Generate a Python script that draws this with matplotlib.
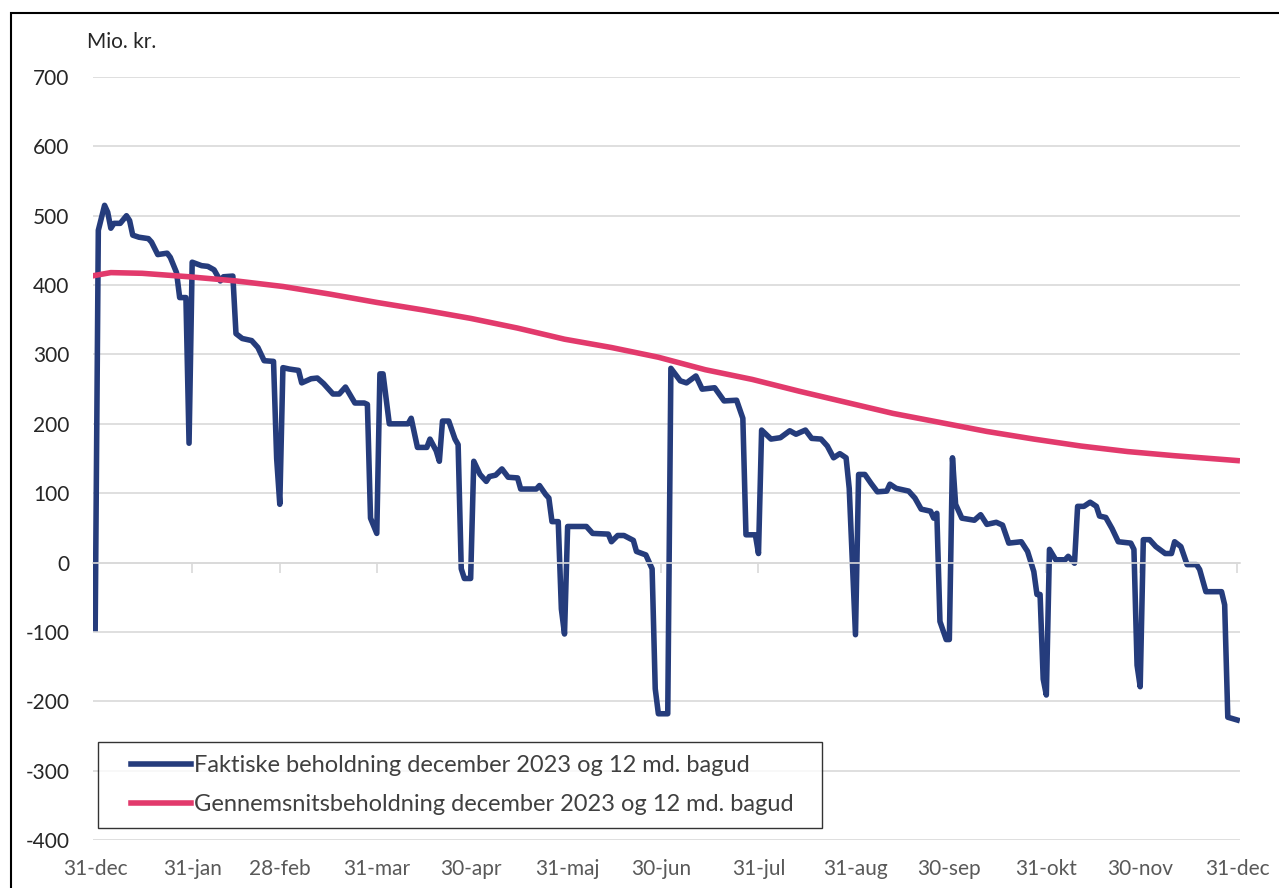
import matplotlib.pyplot as plt
from matplotlib.patches import Rectangle
from matplotlib.legend_handler import HandlerLine2D

plt.rcParams['font.family'] = ['Lato', 'DejaVu Sans']
plt.rcParams['axes.unicode_minus'] = False

# Faktiske beholdning: dag (0 = 31-dec) og værdi i mio. kr.
dage = [0, 1, 3, 4, 5, 6, 8, 10, 11, 12, 14, 17, 18, 20, 23, 24, 26, 27, 29, 30,
        31, 34, 36, 38, 40, 41, 44, 45, 47, 50, 52, 54, 57, 58, 59, 60, 62, 65, 66, 69,
        71, 73, 76, 78, 80, 83, 86, 87, 88, 90, 91, 92, 94, 100, 101, 103, 106, 107, 109, 110,
        111, 113, 115, 116, 117, 118, 120, 121, 123, 125, 126, 128, 130, 132, 135, 136, 141, 142, 144, 145,
        146, 148, 149, 150, 151, 157, 159, 164, 165, 167, 169, 172, 173, 176, 178, 179, 180, 183, 184, 187,
        189, 192, 194, 198, 201, 205, 207, 208, 211, 212, 213, 216, 219, 222, 224, 227, 229, 232, 234, 236,
        238, 240, 241, 243, 244, 246, 248, 250, 253, 254, 256, 260, 262, 264, 267, 268, 269, 270, 272, 273,
        274, 275, 277, 281, 283, 285, 288, 290, 292, 296, 298, 300, 301, 302, 303, 304, 305, 307, 310, 311,
        313, 314, 316, 318, 320, 321, 323, 325, 327, 331, 332, 333, 334, 335, 337, 339, 342, 344, 345, 347,
        349, 352, 353, 355, 360, 361, 362, 365]
faktisk = [-95, 479, 515, 505, 482, 489, 489, 500, 493, 472, 469, 467, 462, 444, 446, 440, 418, 382, 382, 172,
           433, 428, 427, 422, 406, 412, 413, 330, 323, 320, 310, 291, 290, 150, 84, 281, 279, 277, 259, 265,
           266, 258, 243, 243, 253, 230, 230, 228, 64, 42, 272, 272, 200, 200, 208, 166, 166, 178, 161, 146,
           204, 204, 178, 170, -9, -23, -23, 146, 127, 117, 124, 126, 135, 123, 122, 106, 106, 111, 98, 93,
           59, 59, -67, -103, 52, 52, 42, 41, 30, 39, 39, 32, 16, 11, -9, -182, -218, -218, 280, 262,
           259, 269, 250, 252, 233, 234, 208, 40, 40, 13, 191, 178, 180, 190, 185, 191, 179, 178, 168, 151,
           157, 151, 107, -104, 127, 127, 114, 102, 103, 113, 107, 103, 93, 77, 74, 64, 71, -85, -111, -111,
           151, 84, 64, 61, 69, 55, 58, 54, 28, 30, 16, -13, -46, -46, -168, -191, 19, 4, 4, 9,
           -1, 81, 81, 87, 81, 67, 65, 49, 30, 28, 19, -148, -179, 33, 33, 23, 13, 13, 30, 23,
           -3, -3, -10, -42, -42, -61, -223, -227]

# Gennemsnitsbeholdning
dage_gns = [0, 5, 15, 30, 45, 60, 75, 90, 105, 120, 135, 150, 165, 180, 195, 210, 225, 240,
            255, 270, 285, 300, 315, 330, 345, 365]
gennemsnit = [414, 418, 417, 412, 406, 398, 387, 375, 364, 352, 338, 322, 310, 296, 278, 264, 247, 231,
              215, 202, 189, 178, 168, 160, 154, 147]

maaned_dage = [0, 31, 59, 90, 120, 151, 181, 212, 243, 273, 304, 334, 365]
maaned_labels = ['31-dec', '31-jan', '28-feb', '31-mar', '30-apr', '31-maj', '30-jun',
                 '31-jul', '31-aug', '30-sep', '31-okt', '30-nov', '31-dec']

blaa = '#253C7C'
pink = '#E23A6C'

fig = plt.figure(figsize=(12.79, 8.88), dpi=100)
ax = fig.add_axes([93 / 1279, 1 - 840 / 888, (1240 - 93) / 1279, (840 - 77) / 888])

ax.plot(dage, faktisk, color=blaa, lw=4.0, solid_joinstyle='round',
        label='Faktiske beholdning december 2023 og 12 md. bagud')
ax.plot(dage_gns, gennemsnit, color=pink, lw=4.0,
        label='Gennemsnitsbeholdning december 2023 og 12 md. bagud')

ax.set_xlim(-0.7, 365.9)
ax.set_ylim(-400, 700)
ax.set_yticks(range(-400, 701, 100))
ax.grid(axis='y', color='#D9D9D9', lw=1.2)
ax.set_axisbelow(True)

for s in ['top', 'right', 'left']:
    ax.spines[s].set_visible(False)
# vandret akse ved 0 med tick marks, labels i bunden
ax.spines['bottom'].set_position(('data', 0))
ax.spines['bottom'].set_color('#D9D9D9')
ax.spines['bottom'].set_linewidth(1.2)
ax.set_xticks(maaned_dage)
ax.tick_params(axis='x', direction='out', length=7, width=1.2, color='#D9D9D9', labelbottom=False)
ax.tick_params(axis='y', length=0, pad=17, labelsize=15, labelcolor='#262626')

sec = ax.secondary_xaxis(0)
sec.set_xticks(maaned_dage)
sec.set_xticklabels(maaned_labels)
sec.tick_params(length=0, pad=14, labelsize=15, labelcolor='#595959')
sec.spines['bottom'].set_visible(False)

fig.text(87 / 1279, 1 - 42 / 888, 'Mio. kr.', fontsize=15, color='#262626', va='center', ha='left')

leg = ax.legend(loc='lower left',
                bbox_to_anchor=((98 - 93) / 1147, (840 - 828) / 763, (822 - 98) / 1147, 0.1),
                mode='expand', fontsize=17, frameon=True, fancybox=False,
                handlelength=3.4, handletextpad=0.12, borderpad=0.55, labelspacing=0.75,
                borderaxespad=0, handler_map={plt.Line2D: HandlerLine2D(xpad=0.85)})
leg.get_frame().set_edgecolor('black')
leg.get_frame().set_linewidth(1.0)
for t in leg.get_texts():
    t.set_color('#404040')

# ramme om hele figuren
fig.patches.append(Rectangle((11 / 1279, -0.05), 1.1, 1 - 13 / 888 + 0.05, transform=fig.transFigure,
                             fill=False, edgecolor='black', lw=1.5))

fig.savefig('out.png', dpi=100)
